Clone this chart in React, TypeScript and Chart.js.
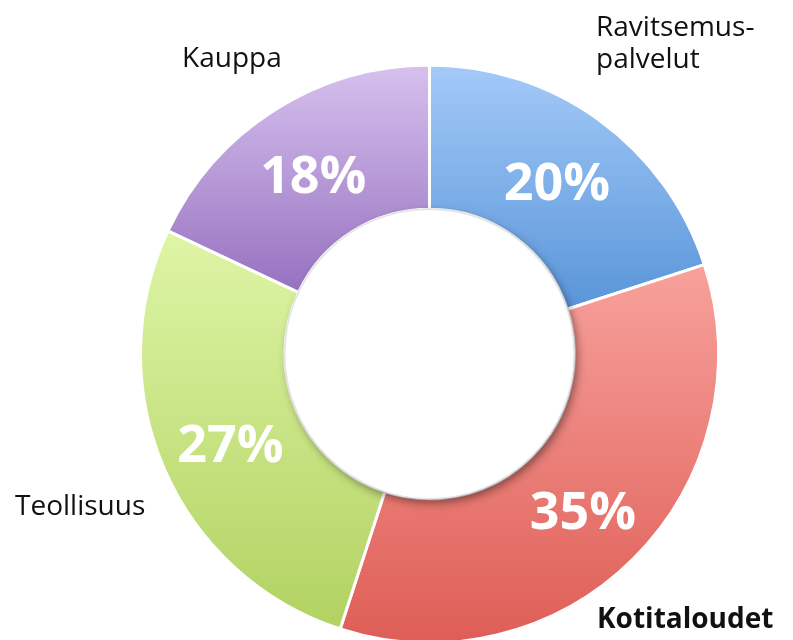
import React, { useEffect, useRef } from "react";
import { Chart, registerables } from "chart.js";

Chart.register(...registerables);

const categories = ["Ravitsemuspalvelut", "Kotitaloudet", "Teollisuus", "Kauppa"];
const labelLines = [["Ravitsemus-", "palvelut"], ["Kotitaloudet"], ["Teollisuus"], ["Kauppa"]];
const shares = [20, 35, 27, 18];
const topColors = ["#a4caf8", "#f8a19c", "#def5a6", "#d6c1ee"];
const bottomColors = ["#5995d9", "#de5e56", "#b2d262", "#9771c0"];
const labelBold = [false, true, false, false];

// label anchors relative to doughnut center (layout only)
const labelOffsets = [
  { dx: 166.5, dy: -318 },
  { dx: 167.5, dy: 274 },
  { dx: -414.5, dy: 161 },
  { dx: -247.5, dy: -287 },
];

const FONT = '"Open Sans", "Noto Sans", sans-serif';
const OUTER = 289;
const INNER = 144;

function sliceGradient(ctx: any) {
  const chart = ctx.chart;
  const area = chart.chartArea;
  const i = ctx.dataIndex;
  if (!area || i === undefined) return topColors[i || 0];
  const cx = (area.left + area.right) / 2;
  const cy = (area.top + area.bottom) / 2;
  const data: number[] = chart.data.datasets[0].data as number[];
  const total = data.reduce((a, b) => a + b, 0);
  let cum = 0;
  for (let k = 0; k < i; k++) cum += data[k];
  const a0 = -Math.PI / 2 + (2 * Math.PI * cum) / total;
  const a1 = a0 + (2 * Math.PI * data[i]) / total;
  const ys: number[] = [];
  for (const a of [a0, a1]) {
    ys.push(cy + OUTER * Math.sin(a), cy + INNER * Math.sin(a));
  }
  const inRange = (t: number) => {
    for (let k = -2; k <= 2; k++) {
      const v = t + 2 * Math.PI * k;
      if (v >= a0 && v <= a1) return true;
    }
    return false;
  };
  if (inRange(-Math.PI / 2)) ys.push(cy - OUTER);
  if (inRange(Math.PI / 2)) ys.push(cy + OUTER);
  const y0 = Math.min(...ys);
  const y1 = Math.max(...ys);
  const g = chart.ctx.createLinearGradient(0, y0, 0, y1);
  g.addColorStop(0, topColors[i]);
  g.addColorStop(1, bottomColors[i]);
  return g;
}

const holePlugin = {
  id: "hole",
  afterDatasetsDraw(chart: any) {
    const meta = chart.getDatasetMeta(0);
    const arc = meta.data[0];
    if (!arc) return;
    const { x, y, innerRadius } = arc.getProps(["x", "y", "innerRadius"], true);
    const ctx = chart.ctx;
    ctx.save();
    ctx.beginPath();
    ctx.arc(x, y, innerRadius, 0, Math.PI * 2);
    ctx.shadowColor = "rgba(0,0,0,0.45)";
    ctx.shadowBlur = 10;
    ctx.shadowOffsetX = 3;
    ctx.shadowOffsetY = 4;
    ctx.fillStyle = "#ffffff";
    ctx.fill();
    ctx.restore();
    ctx.save();
    ctx.beginPath();
    ctx.arc(x, y, innerRadius, 0, Math.PI * 2);
    ctx.strokeStyle = "#e4e4e4";
    ctx.lineWidth = 1.5;
    ctx.stroke();
    ctx.restore();
  },
};

const labelPlugin = {
  id: "labels",
  afterDraw(chart: any) {
    const ctx = chart.ctx;
    const meta = chart.getDatasetMeta(0);
    meta.data.forEach((arc: any, i: number) => {
      const { x, y, startAngle, endAngle, innerRadius, outerRadius } = arc.getProps(
        ["x", "y", "startAngle", "endAngle", "innerRadius", "outerRadius"],
        true
      );
      const mid = (startAngle + endAngle) / 2;
      const r = (innerRadius + outerRadius) / 2;
      ctx.save();
      ctx.fillStyle = "#ffffff";
      ctx.font = `bold 52px ${FONT}`;
      ctx.textAlign = "center";
      ctx.textBaseline = "middle";
      ctx.fillText(`${shares[i]}%`, x + r * Math.cos(mid), y + r * Math.sin(mid) + 7);
      ctx.restore();

      const off = labelOffsets[i];
      ctx.save();
      ctx.fillStyle = "#111111";
      ctx.font = `${labelBold[i] ? "bold " : ""}28px ${FONT}`;
      ctx.textAlign = "left";
      ctx.textBaseline = "alphabetic";
      labelLines[i].forEach((line, li) => {
        ctx.fillText(line, x + off.dx, y + off.dy + li * 32);
      });
      ctx.restore();
    });
  },
};

export default function App() {
  const ref = useRef<HTMLCanvasElement | null>(null);
  useEffect(() => {
    if (!ref.current) return;
    const chart = new Chart(ref.current, {
      type: "doughnut",
      data: {
        labels: categories,
        datasets: [
          {
            data: shares,
            backgroundColor: sliceGradient as any,
            borderColor: "#ffffff",
            borderWidth: 3,
          },
        ],
      },
      options: {
        responsive: false,
        animation: false,
        radius: OUTER,
        cutout: INNER,
        layout: { padding: { left: 140.5, right: 74.5, top: 65, bottom: 57 } },
        plugins: { legend: { display: false }, tooltip: { enabled: false } },
      } as any,
      plugins: [holePlugin, labelPlugin],
    });
    return () => chart.destroy();
  }, []);
  return (
    <div
      style={{
        position: "absolute",
        left: 0,
        top: 0,
        width: 793,
        height: 640,
        overflow: "hidden",
        background: "#ffffff",
      }}
    >
      <canvas ref={ref} width={793} height={700} style={{ display: "block" }} />
    </div>
  );
}
